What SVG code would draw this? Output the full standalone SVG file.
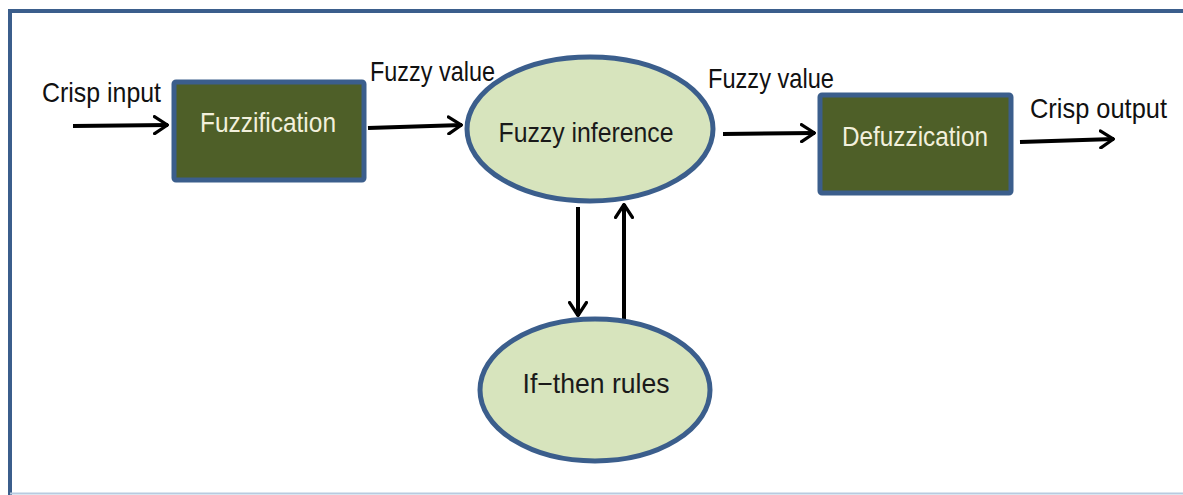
<svg xmlns="http://www.w3.org/2000/svg" width="1183" height="495" viewBox="0 0 1183 495">
  <defs>
    <marker id="arrow" viewBox="0 0 16 20" refX="15" refY="10" markerWidth="16" markerHeight="20" markerUnits="userSpaceOnUse" orient="auto">
      <path d="M1.5,1.5 L14.5,10 L1.5,18.5" fill="none" stroke="#000" stroke-width="3.2" stroke-linecap="round" stroke-linejoin="round"/>
    </marker>
  </defs>
  <style>
    .frame { stroke: #3b5e8c; stroke-width: 4; fill: none; }
    .box { fill: #4e5f28; stroke: #3b5e8c; stroke-width: 5; }
    .oval { fill: #d7e4bd; stroke: #3b5e8c; stroke-width: 5; }
    .lbl { font-family: "Liberation Sans", Arial, sans-serif; font-size: 28px; fill: #111; }
    .boxtxt { font-family: "Liberation Sans", Arial, sans-serif; font-size: 28px; fill: #f2f0dc; text-anchor: middle; }
    .ovaltxt { font-family: "Liberation Sans", Arial, sans-serif; font-size: 28px; fill: #1a1a1a; text-anchor: middle; }
    .conn { stroke: #000; stroke-width: 4; fill: none; marker-end: url(#arrow); }
  </style>

  <rect width="1183" height="495" fill="#fff"/>

  <!-- outer frame -->
  <line class="frame" x1="10" y1="11" x2="1183" y2="11"/>
  <line class="frame" x1="10" y1="9" x2="10" y2="495"/>
  <line x1="10" y1="493.5" x2="1183" y2="493.5" stroke="#b8cbe0" stroke-width="2"/>

  <!-- connectors -->
  <g id="connectors">
    <line class="conn" x1="73" y1="126" x2="168" y2="125"/>
    <line class="conn" x1="368" y1="128" x2="462" y2="125"/>
    <line class="conn" x1="723" y1="134" x2="815" y2="133"/>
    <line class="conn" x1="1020" y1="142" x2="1114" y2="139"/>
    <line class="conn" x1="578" y1="207" x2="578" y2="316"/>
    <line class="conn" x1="624" y1="320" x2="624" y2="204"/>
  </g>

  <!-- edge labels -->
  <g id="labels">
    <text class="lbl" x="42" y="102" textLength="119" lengthAdjust="spacingAndGlyphs">Crisp input</text>
    <text class="lbl" x="370" y="81" textLength="125" lengthAdjust="spacingAndGlyphs">Fuzzy value</text>
    <text class="lbl" x="708" y="88" textLength="126" lengthAdjust="spacingAndGlyphs">Fuzzy value</text>
    <text class="lbl" x="1030" y="118" textLength="137" lengthAdjust="spacingAndGlyphs">Crisp output</text>
  </g>

  <g id="fuzzification">
    <rect class="box" x="174" y="82" width="190" height="98" rx="2"/>
    <text class="boxtxt" x="268" y="132" textLength="136" lengthAdjust="spacingAndGlyphs">Fuzzification</text>
  </g>

  <g id="fuzzy-inference">
    <ellipse class="oval" cx="590" cy="129" rx="123" ry="72"/>
    <text class="ovaltxt" x="586" y="142" textLength="175" lengthAdjust="spacingAndGlyphs">Fuzzy inference</text>
  </g>

  <g id="defuzzication">
    <rect class="box" x="820" y="95" width="191" height="98" rx="2"/>
    <text class="boxtxt" x="915" y="146" textLength="146" lengthAdjust="spacingAndGlyphs">Defuzzication</text>
  </g>

  <g id="if-then-rules">
    <ellipse class="oval" cx="595" cy="390" rx="115" ry="71"/>
    <text class="ovaltxt" x="596" y="393" textLength="147" lengthAdjust="spacingAndGlyphs">If−then rules</text>
  </g>
</svg>
